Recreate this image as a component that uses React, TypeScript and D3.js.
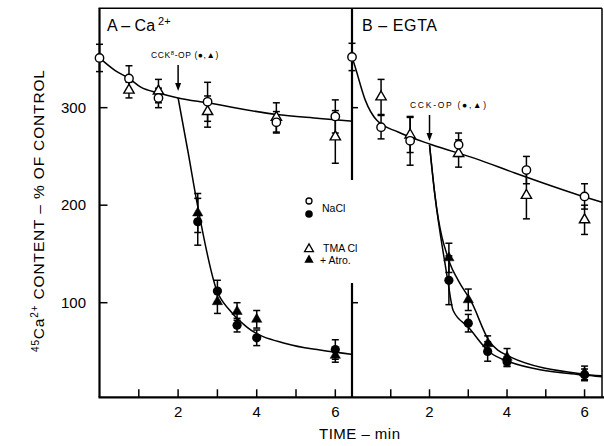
import React from 'react'
import * as d3 from 'd3'

const W = 604
const H = 446

// sampling times (min)
const ctrlTimes = [0, 0.75, 1.5, 2.75, 4.5, 6]
const cckTimes = [2.5, 3, 3.5, 4, 6]

// panel A - Ca2+  (value, sem)
const aNaCl = [351, 330, 310, 306, 285, 291]
const aNaClErr = [14, 13, 10, 20, 11, 17]
const aTma = [null, 318, 317, 296, 290, 270]
const aTmaErr = [0, 8, 12, 16, 15, 27]
const aCck = [183, 112, 77, 64, 52]
const aCckErr = [24, 11, 7, 8, 10]
const aAtro = [192, 101, 91, 83, 46]
const aAtroErr = [20, 12, 9, 9, 7]

// panel B - EGTA
const bNaCl = [352, 280, 266, 262, 236, 209]
const bNaClErr = [14, 12, 25, 12, 14, 13]
const bTma = [null, 311, 272, 253, 210, 185]
const bTmaErr = [0, 18, 18, 14, 24, 15]
const bCck = [123, 79, 50, 39.5, 26]
const bCckErr = [25, 9, 10, 5, 6]
const bAtro = [146, 103, 58, 44, 28]
const bAtroErr = [15, 11, 8, 9, 7]

// fitted curves: [time, value]
const aCtrlFit: [number, number][] = [[0, 351], [0.4, 338], [0.75, 330], [1.05, 321], [1.5, 315], [2, 310], [2.75, 305], [4.5, 293], [5.6, 289], [6.45, 286]]
const aCckFit: [number, number][] = [[2, 310], [2.26, 253], [2.47, 205], [2.98, 113], [3.32, 92], [3.75, 75], [4.76, 58], [5.61, 51.5], [6.45, 47]]
const bCtrlFit: [number, number][] = [[0, 352], [0.08, 342], [0.34, 308], [0.64, 287], [1.19, 275], [2.06, 262], [3.17, 248], [4.2, 233], [5.84, 210.5], [6.45, 203]]
const bCckFit: [number, number][] = [[2, 262], [2.14, 210], [2.4, 140], [2.47, 123], [2.61, 92], [3, 75], [3.53, 50], [4.05, 39.5], [5.94, 26], [6.45, 24]]
const bAtroFit: [number, number][] = [[2, 262], [2.14, 210], [2.53, 140], [2.74, 123], [3.09, 100], [3.52, 62], [4.05, 45], [5.94, 27], [6.45, 25]]

const yTicks = [100, 200, 300]
const yTicksB = [100, 300] // the 200 tick falls in the divider's gap
const xTicks = [1, 2, 3, 4, 5, 6]
const xLabels = [2, 4, 6]

const font = 'Liberation Sans, Arial, Helvetica, sans-serif'

const y = d3.scaleLinear().domain([3, 402]).range([397.3, 8.2])
const xA = d3.scaleLinear().domain([0, 6.45]).range([99.5, 353])
const xB = d3.scaleLinear().domain([0, 6.45]).range([352, 602])

const triPath = d3.symbol().type(d3.symbolTriangle).size(46)() as string

type Kind = 'open' | 'filled' | 'otri' | 'ftri'

const Marker = ({ kind, cx, cy }: { kind: Kind; cx: number; cy: number }) => {
  if (kind === 'open') return <circle cx={cx} cy={cy} r={4.2} fill='white' stroke='black' strokeWidth={1.4} />
  if (kind === 'filled') return <circle cx={cx} cy={cy} r={4.6} fill='black' />
  return (
    <path
      d={triPath}
      transform={`translate(${cx},${cy})`}
      fill={kind === 'otri' ? 'white' : 'black'}
      stroke='black'
      strokeWidth={kind === 'otri' ? 1.4 : 0.5}
    />
  )
}

type Series = { times: number[]; vals: (number | null)[]; errs: number[]; kind: Kind }

const Panel = ({ x, series, fits }: { x: d3.ScaleLinear<number, number>; series: Series[]; fits: [number, number][][] }) => {
  const line = d3
    .line<[number, number]>()
    .x((d) => x(d[0]))
    .y((d) => y(d[1]))
    .curve(d3.curveMonotoneX)
  const pts = series.flatMap((s) =>
    s.times
      .map((t, i) => ({ t, v: s.vals[i], e: s.errs[i], kind: s.kind }))
      .filter((p) => p.v !== null)
  ) as { t: number; v: number; e: number; kind: Kind }[]
  return (
    <g>
      {fits.map((f, i) => (
        <path key={i} d={line(f) as string} fill='none' stroke='black' strokeWidth={1.5} />
      ))}
      {pts.map((p, i) => {
        const cx = x(p.t)
        const y1 = y(p.v + p.e)
        const y2 = y(p.v - p.e)
        return (
          <g key={'e' + i} stroke='black' strokeWidth={1.5}>
            <line x1={cx} x2={cx} y1={y1} y2={y2} />
            <line x1={cx - 3.5} x2={cx + 3.5} y1={y1} y2={y1} />
            <line x1={cx - 3.5} x2={cx + 3.5} y1={y2} y2={y2} />
          </g>
        )
      })}
      {pts.map((p, i) => (
        <Marker key={'m' + i} kind={p.kind} cx={x(p.t)} cy={y(p.v)} />
      ))}
    </g>
  )
}

const Arrow = ({ x0, y0, y1 }: { x0: number; y0: number; y1: number }) => (
  <g>
    <line x1={x0} x2={x0} y1={y0} y2={y1 - 6} stroke='black' strokeWidth={1.5} />
    <path d={`M${x0 - 3},${y1 - 8} L${x0 + 3},${y1 - 8} L${x0},${y1} Z`} fill='black' />
  </g>
)

export default function App() {
  const yBase = y(3)
  const yTop = y(402)
  return (
    <svg width={W} height={H} style={{ position: 'absolute', left: 0, top: 0, background: 'white' }} fontFamily={font}>
      {/* frame and axes */}
      <g stroke='black' fill='none'>
        <line x1={xA(0)} x2={xA(0)} y1={yTop} y2={yBase} strokeWidth={2.2} />
        {/* divider, broken where the legend sits */}
        <line x1={xB(0)} x2={xB(0)} y1={yTop} y2={180} strokeWidth={2.2} />
        <line x1={xB(0)} x2={xB(0)} y1={283} y2={yBase} strokeWidth={2.2} />
        <line x1={xA(0) - 1} x2={602} y1={yTop} y2={yTop} strokeWidth={1.5} />
        <line x1={602} x2={602} y1={yTop} y2={yBase} strokeWidth={1.5} />
        <line x1={xA(0) - 1} x2={W} y1={yBase} y2={yBase} strokeWidth={2.2} />
        {yTicks.map((v) => (
          <line key={'a' + v} x1={xA(0)} x2={xA(0) + 8} y1={y(v)} y2={y(v)} strokeWidth={1.5} />
        ))}
        {yTicksB.map((v) => (
          <line key={'b' + v} x1={xB(0)} x2={xB(0) + 6} y1={y(v)} y2={y(v)} strokeWidth={1.5} />
        ))}
        {xTicks.map((t) => (
          <g key={t}>
            <line x1={xA(t)} x2={xA(t)} y1={yBase} y2={yBase - 8} strokeWidth={1.5} />
            <line x1={xB(t)} x2={xB(t)} y1={yBase} y2={yBase - 8} strokeWidth={1.5} />
          </g>
        ))}
      </g>

      {/* tick labels */}
      <g fontSize={15} fill='black'>
        {yTicks.map((v) => (
          <text key={v} x={86} y={y(v)} dy='0.35em' textAnchor='end'>
            {v}
          </text>
        ))}
        {xLabels.map((t) => (
          <g key={t}>
            <text x={xA(t)} y={417} textAnchor='middle'>{t}</text>
            <text x={xB(t)} y={417} textAnchor='middle'>{t}</text>
          </g>
        ))}
      </g>

      {/* axis titles */}
      <text x={319} y={439} fontSize={15} textLength={81} lengthAdjust='spacing'>
        TIME – min
      </text>
      <text transform='translate(44,211) rotate(-90)' textAnchor='middle' fontSize={15.5} textLength={282} lengthAdjust='spacing'>
        <tspan fontSize={10} dy={-5}>45</tspan>
        <tspan dy={5}>Ca</tspan>
        <tspan fontSize={10} dy={-6}>2+</tspan>
        <tspan dy={6}> CONTENT – % OF CONTROL</tspan>
      </text>

      {/* panel titles */}
      <text x={107} y={31} fontSize={16}>
        A – Ca<tspan fontSize={11} dy={-6}> 2+</tspan>
      </text>
      <text x={362} y={31} fontSize={16} textLength={75} lengthAdjust='spacing'>
        B – EGTA
      </text>

      {/* CCK-OP annotations */}
      <text x={151} y={58} fontSize={8.5} letterSpacing={0.6}>
        CCK<tspan fontSize={6} dy={-3}>8</tspan>
        <tspan dy={3}>-OP (●,▲)</tspan>
      </text>
      <Arrow x0={xA(2)} y0={65} y1={91} />
      <text x={410} y={108} fontSize={8.5} textLength={76} lengthAdjust='spacing'>
        CCK-OP (●,▲)
      </text>
      <Arrow x0={xB(2)} y0={115} y1={141} />

      <Panel
        x={xA}
        fits={[aCtrlFit, aCckFit]}
        series={[
          { times: ctrlTimes, vals: aTma, errs: aTmaErr, kind: 'otri' },
          { times: ctrlTimes, vals: aNaCl, errs: aNaClErr, kind: 'open' },
          { times: cckTimes, vals: aAtro, errs: aAtroErr, kind: 'ftri' },
          { times: cckTimes, vals: aCck, errs: aCckErr, kind: 'filled' },
        ]}
      />
      <Panel
        x={xB}
        fits={[bCtrlFit, bCckFit, bAtroFit]}
        series={[
          { times: ctrlTimes, vals: bTma, errs: bTmaErr, kind: 'otri' },
          { times: ctrlTimes, vals: bNaCl, errs: bNaClErr, kind: 'open' },
          { times: cckTimes, vals: bAtro, errs: bAtroErr, kind: 'ftri' },
          { times: cckTimes, vals: bCck, errs: bCckErr, kind: 'filled' },
        ]}
      />

      {/* legend */}
      <circle cx={309} cy={201} r={3} fill='white' stroke='black' strokeWidth={1.3} />
      <circle cx={309} cy={214} r={3.8} fill='black' />
      <path d={d3.symbol().type(d3.symbolTriangle).size(34)() as string} transform='translate(309,249)' fill='white' stroke='black' strokeWidth={1.3} />
      <path d={d3.symbol().type(d3.symbolTriangle).size(38)() as string} transform='translate(309,260)' fill='black' />
      <g fontSize={10.5}>
        <text x={322} y={211.5}>NaCl</text>
        <text x={323} y={252}>TMA Cl</text>
        <text x={320} y={264}>+ Atro.</text>
      </g>
    </svg>
  )
}
